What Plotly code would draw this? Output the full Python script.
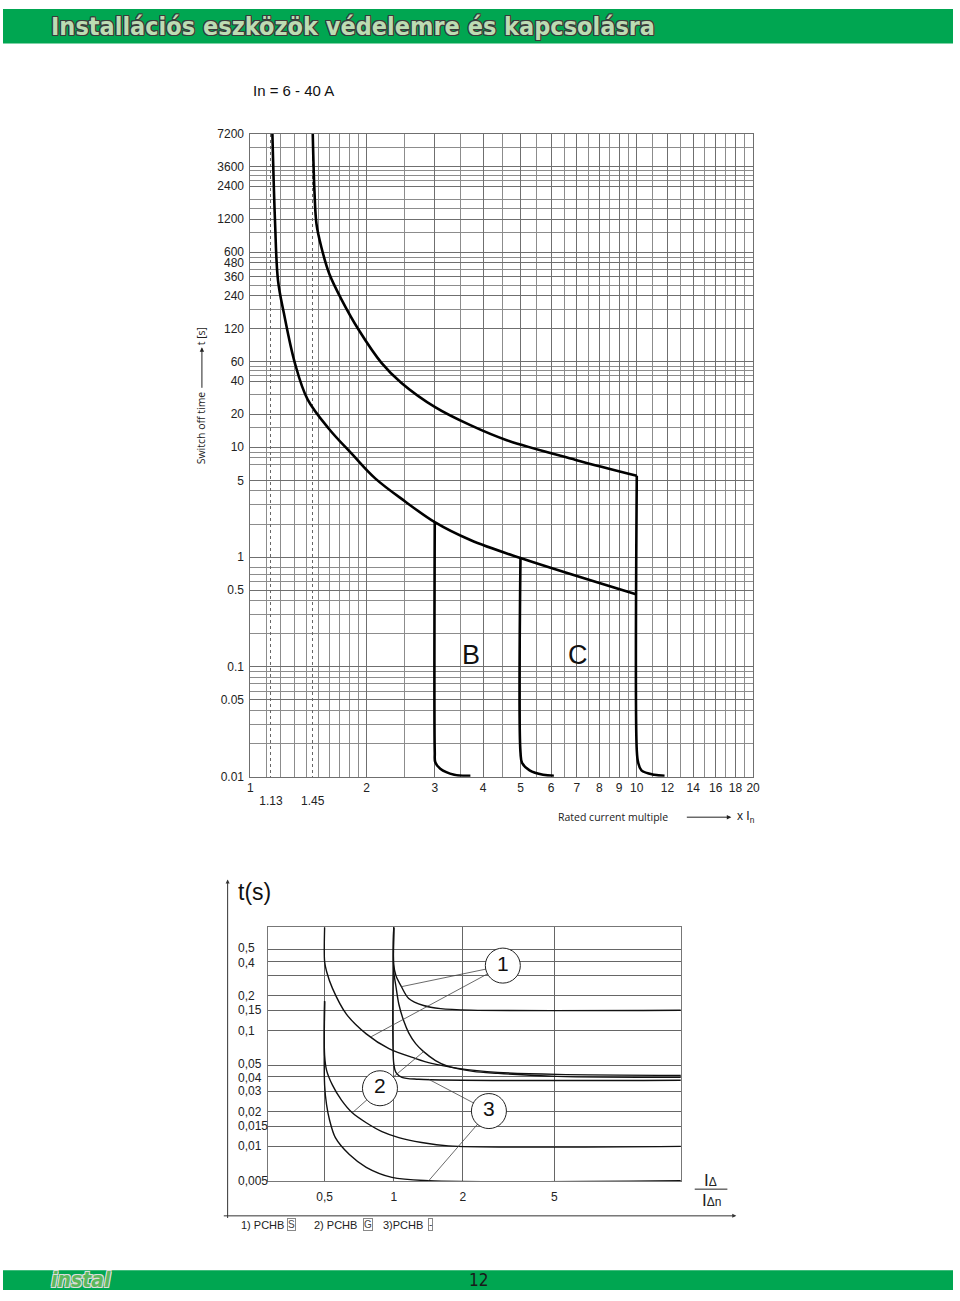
import math
import plotly.graph_objects as go

W, H = 960, 1301

# ---------------- upper chart data (MCB tripping curves, In = 6 - 40 A) ----------------
x_ticks_main = [1, 2, 3, 4, 5, 6, 7, 8, 9, 10, 12, 14, 16, 18, 20]
x_ticks_main_text = ["1", "2", "3", "4", "5", "6", "7", "8", "9", "10", "12", "14", "16", "18", "20"]
x_grid_minor = [1.1, 1.2, 1.3, 1.4, 1.5, 1.6, 1.7, 1.8, 1.9, 2.5, 3.5, 4.5, 5.5, 6.5, 7.5,
                8.5, 9.5, 11, 13, 15, 17, 19]
x_ticks_dotted = [1.13, 1.45]
x_ticks_dotted_text = ["1.13", "1.45"]

y_ticks_main = [0.01, 0.05, 0.1, 0.5, 1, 5, 10, 20, 40, 60, 120, 240, 360, 480, 600,
                1200, 2400, 3600, 7200]
y_ticks_main_text = ["0.01", "0.05", "0.1", "0.5", "1", "5", "10", "20", "40", "60", "120",
                     "240", "360", "480", "600", "1200", "2400", "3600", "7200"]
y_grid_minor = [0.02, 0.03, 0.04, 0.06, 0.07, 0.08, 0.09, 0.2, 0.3, 0.4, 0.6, 0.7, 0.8,
                2, 3, 4, 7, 8, 9, 15, 30, 45, 50, 55, 180, 300, 420, 540, 900, 1500,
                1800, 2700, 3000, 3300, 5400]

# thermal boundary curve starting at 1.13 x In
curve_113_x = [1.14, 1.158, 1.179, 1.221, 1.303, 1.406, 1.60, 1.831, 2.107, 2.515, 3.0,
               3.709, 5.0, 10.0]
curve_113_y = [7200, 1145, 330, 166, 58.8, 27.3, 14.6, 8.7, 5.18, 3.21, 2.08, 1.43, 0.98, 0.456]
# thermal boundary curve starting at 1.45 x In
curve_145_x = [1.45, 1.465, 1.483, 1.526, 1.60, 1.727, 1.908, 2.184, 2.456, 3.014, 3.709,
               4.607, 6.95, 10.0]
curve_145_y = [7200, 2134, 1076, 667, 381, 217, 117, 58.8, 38.8, 23.1, 15.9, 11.6, 7.68, 5.51]
# magnetic release branches
mag_3_x = [3.0, 3.0, 3.01, 3.10, 3.37, 3.71]
mag_3_y = [2.08, 0.0168, 0.0135, 0.0118, 0.0104, 0.0102]
mag_5_x = [5.0, 5.0, 5.05, 5.28, 5.72, 6.1]
mag_5_y = [0.98, 0.0167, 0.0133, 0.0114, 0.0104, 0.0102]
mag_10_x = [10.0, 10.0, 10.08, 10.28, 11.1, 11.8]
mag_10_y = [5.51, 0.0173, 0.0135, 0.0114, 0.0104, 0.0102]

curve_labels = ["B", "C"]
curve_label_x = [3.73, 7.03]
curve_label_y = [0.128, 0.128]

# ---------------- lower chart data (RCD characteristics) ----------------
rcd_x_ticks = [0.5, 1, 2, 5]
rcd_x_ticks_text = ["0,5", "1", "2", "5"]
rcd_y_grid = [0.5, 0.4, 0.3, 0.2, 0.15, 0.1, 0.05, 0.04, 0.03, 0.02, 0.015, 0.01, 0.005]
rcd_y_labels = [0.5, 0.4, 0.2, 0.15, 0.1, 0.05, 0.04, 0.03, 0.02, 0.015, 0.01, 0.005]
rcd_y_labels_text = ["0,5", "0,4", "0,2", "0,15", "0,1", "0,05", "0,04", "0,03", "0,02",
                     "0,015", "0,01", "0,005"]

c1_upper_x = [1.0, 1.0, 1.022, 1.08, 1.162, 1.349, 1.6, 2.17, 17.8]
c1_upper_y = [0.78, 0.37, 0.30, 0.24, 0.19, 0.165, 0.155, 0.1505, 0.150]
c1_lower_x = [0.5, 0.5, 0.51, 0.541, 0.622, 0.759, 0.953, 1.246, 1.461, 1.909, 2.84, 5.15, 17.8]
c1_lower_y = [0.78, 0.395, 0.325, 0.232, 0.139, 0.0939, 0.0699, 0.0574, 0.0521, 0.0472,
              0.0436, 0.0419, 0.0411]
c2_upper_x = [1.0, 1.0, 1.022, 1.052, 1.106, 1.162, 1.246, 1.349, 1.52, 1.729, 2.216, 2.84,
              5.15, 17.8]
c2_upper_y = [0.78, 0.325, 0.242, 0.170, 0.121, 0.0958, 0.0772, 0.0659, 0.0552, 0.0491,
              0.0445, 0.0428, 0.0403, 0.0395]
c2_lower_x = [0.5, 0.5, 0.51, 0.541, 0.592, 0.66, 0.759, 0.889, 1.052, 1.322, 1.729, 17.8]
c2_lower_y = [0.18, 0.061, 0.0454, 0.0338, 0.0251, 0.0195, 0.016, 0.0134, 0.0119, 0.0108,
              0.0101, 0.0100]
c3_upper_x = [1.0, 1.0, 1.022, 1.085, 1.284, 17.8]
c3_upper_y = [0.78, 0.0521, 0.0436, 0.0395, 0.038, 0.0373]
c3_lower_x = [0.5, 0.5, 0.51, 0.525, 0.557, 0.641, 0.759, 0.982, 1.42, 17.8]
c3_lower_y = [0.18, 0.0338, 0.0228, 0.017, 0.0119, 0.0085, 0.0066, 0.0054, 0.00505, 0.00505]

callout_labels = ["1", "2", "3"]
callout_x = [2.986, 0.871, 2.597]
callout_y = [0.365, 0.0318, 0.0202]
leader_a_x = [1.08, 1.349, 1.42]
leader_a_y = [0.24, 0.0659, 0.038]
leader_b_x = [0.797, 0.66, 1.42]
leader_b_y = [0.0886, 0.0195, 0.00505]

legend_items = ["1) PCHB", "2) PCHB", "3)PCHB"]
legend_boxes = ["S", "G", "-"]

# ---------------- helpers ----------------
def fx(px):
    return px / W


def fy(py):
    return 1 - py / H


ARIAL = "Liberation Sans, Arial, sans-serif"
OPEN = "Open Sans, sans-serif"
NARROW = "Liberation Sans Narrow, DejaVu Sans Condensed, sans-serif"
GREEN = "#00a651"

fig = go.Figure()

CURVE = dict(color="black", width=2.6, shape="spline", smoothing=1.0)
for xs, ys, ax in [(curve_113_x, curve_113_y, "x"), (curve_145_x, curve_145_y, "x3"),
                   (mag_3_x, mag_3_y, "x"), (mag_5_x, mag_5_y, "x"), (mag_10_x, mag_10_y, "x")]:
    fig.add_trace(go.Scatter(x=xs, y=ys, mode="lines", line=CURVE, xaxis=ax, yaxis="y",
                             hoverinfo="skip", showlegend=False))

RCD = dict(color="#111", width=1.4, shape="spline", smoothing=0.9)
for xs, ys in [(c1_upper_x, c1_upper_y), (c1_lower_x, c1_lower_y), (c2_upper_x, c2_upper_y),
               (c2_lower_x, c2_lower_y), (c3_upper_x, c3_upper_y), (c3_lower_x, c3_lower_y)]:
    fig.add_trace(go.Scatter(x=xs, y=ys, mode="lines", line=RCD, xaxis="x2", yaxis="y2",
                             hoverinfo="skip", showlegend=False))

# leader lines to the callout circles
for i in range(len(callout_labels)):
    fig.add_trace(go.Scatter(x=[leader_a_x[i], callout_x[i], leader_b_x[i]],
                             y=[leader_a_y[i], callout_y[i], leader_b_y[i]],
                             mode="lines", line=dict(color="#444", width=0.8),
                             xaxis="x2", yaxis="y2", hoverinfo="skip", showlegend=False))
fig.add_trace(go.Scatter(x=callout_x, y=callout_y, mode="markers+text", text=callout_labels,
                         textposition="middle center",
                         textfont=dict(family=ARIAL, size=21, color="#111"),
                         marker=dict(symbol="circle", size=35, color="white",
                                     line=dict(color="#222", width=1)),
                         xaxis="x2", yaxis="y2", hoverinfo="skip", showlegend=False,
                         cliponaxis=False))

GRID_MAJ = "#6f6f6f"
GRID_MIN = "#8c8c8c"
TICKFONT = dict(family=ARIAL, size=12, color="#222")

layout = dict(
    width=W, height=H, autosize=False,
    margin=dict(l=0, r=0, t=0, b=0),
    paper_bgcolor="white", plot_bgcolor="white",
    showlegend=False,
    xaxis=dict(type="log", range=[0, math.log10(20)], domain=[fx(250), fx(758)], anchor="y",
               tickmode="array", tickvals=x_ticks_main, ticktext=x_ticks_main_text,
               showgrid=True, gridcolor=GRID_MAJ, gridwidth=1,
               minor=dict(tickmode="array", tickvals=x_grid_minor, showgrid=True,
                          gridcolor=GRID_MIN, gridwidth=1, ticks=""),
               showline=True, mirror=True, linecolor=GRID_MAJ, linewidth=1,
               ticks="", tickfont=TICKFONT, zeroline=False, fixedrange=True),
    xaxis3=dict(type="log", range=[0, math.log10(20)], overlaying="x", anchor="y",
                tickmode="array", tickvals=x_ticks_dotted,
                ticktext=["<br>" + t for t in x_ticks_dotted_text],
                showgrid=True, gridcolor="#666", griddash="dot", gridwidth=1,
                ticks="", tickfont=TICKFONT, zeroline=False, showline=False, side="bottom"),
    yaxis=dict(type="log", range=[-2, math.log10(7200)], domain=[fy(778), fy(128)], anchor="x",
               tickmode="array", tickvals=y_ticks_main, ticktext=y_ticks_main_text,
               showgrid=True, gridcolor=GRID_MAJ, gridwidth=1,
               minor=dict(tickmode="array", tickvals=y_grid_minor, showgrid=True,
                          gridcolor=GRID_MIN, gridwidth=1, ticks=""),
               showline=True, mirror=True, linecolor=GRID_MAJ, linewidth=1,
               ticks="", tickfont=TICKFONT, zeroline=False, ticklabelstandoff=3),
    xaxis2=dict(type="log", range=[math.log10(0.284), math.log10(17.8)],
                domain=[fx(268), fx(685)], anchor="y2",
                tickmode="array", tickvals=rcd_x_ticks, ticktext=rcd_x_ticks_text,
                showgrid=True, gridcolor="#666", gridwidth=1,
                showline=True, mirror=True, linecolor="#777", linewidth=1,
                ticks="", tickfont=TICKFONT, zeroline=False, ticklabelstandoff=4),
    yaxis2=dict(type="log", range=[math.log10(0.005), math.log10(0.787)],
                domain=[fy(1187), fy(930)], anchor="x2",
                tickmode="array", tickvals=rcd_y_grid, showticklabels=False,
                showgrid=True, gridcolor="#666", gridwidth=1,
                showline=True, mirror=True, linecolor="#777", linewidth=1,
                ticks="", zeroline=False),
)
fig.update_layout(**layout)

shapes = [
    dict(type="rect", xref="paper", yref="paper", x0=0, x1=1, y0=fy(37), y1=fy(2),
         fillcolor=GREEN, line=dict(width=0), layer="below"),
    dict(type="rect", xref="paper", yref="paper", x0=0, x1=1, y0=fy(1297), y1=fy(1277),
         fillcolor=GREEN, line=dict(width=0), layer="below"),
    # fraction bar of the lower x-axis title
    dict(type="line", xref="paper", yref="paper", x0=fx(699), x1=fx(732), y0=fy(1195),
         y1=fy(1195), line=dict(color="#222", width=1)),
]
fig.update_layout(shapes=shapes)


def note(text, px, py, size=12, family=ARIAL, color="#222", xanchor="center", **kw):
    d = dict(text=text, xref="paper", yref="paper", x=fx(px), y=fy(py), xanchor=xanchor,
             yanchor="middle", showarrow=False, font=dict(family=family, size=size, color=color))
    d.update(kw)
    return d


def arrow(px, py, ax, ay, color="#222", size=0.9):
    return dict(text="", xref="paper", yref="paper", x=fx(px), y=fy(py), ax=ax, ay=ay,
                xanchor="center", yanchor="middle",
                showarrow=True, arrowhead=2, arrowsize=size, arrowwidth=1, arrowcolor=color)


ann = []
OUTLINE = ("-1px -1px 0 #3b3b3b, 1px -1px 0 #3b3b3b, -1px 1px 0 #3b3b3b, 1px 1px 0 #3b3b3b, "
           "0 1px 0 #3b3b3b, 0 -1px 0 #3b3b3b, 1px 0 0 #3b3b3b, -1px 0 0 #3b3b3b")
hdr = note("<b>Installációs eszközök védelemre és kapcsolásra</b>", 46, 20, size=25,
           family=NARROW, color="#bcdcb3", xanchor="left")
hdr["font"]["shadow"] = OUTLINE
ann.append(hdr)
ann.append(note("In = 6 - 40 A", 294, 84, size=15, color="#111"))
for t, lx, ly in zip(curve_labels, curve_label_x, curve_label_y):
    ann.append(dict(text=t, xref="x", yref="y", x=math.log10(lx), y=math.log10(ly),
                    xanchor="center", yanchor="middle",
                    showarrow=False, font=dict(family=ARIAL, size=27, color="#111")))
# rotated y title
ann.append(note("Switch off time", 201, 425, size=10.5, family=OPEN, textangle=-90))
ann.append(arrow(201, 344, 0, 42))
ann.append(note("t [s]", 201, 333, size=10.5, family=OPEN, textangle=-90))
# x title
ann.append(note("Rated current multiple", 616, 819, size=10.5, family=OPEN))
ann.append(arrow(736, 819, -46, 0))
ann.append(note("x I<sub>n</sub>", 740, 819, xanchor="left"))

# lower chart
ann.append(note("t(s)", 254, 895, size=23, color="#111"))
ann.append(arrow(227, 882, 0, 340, color="#333", size=0.8))
ann.append(arrow(741, 1222, -514, 0, color="#333", size=0.8))
label_nudge = {"0,5": 1.5, "0,4": -1.5, "0,05": 1.2, "0,04": -1.2}
for v, t in zip(rcd_y_labels, rcd_y_labels_text):
    ann.append(dict(text=t, xref="paper", yref="y2", x=fx(235), y=math.log10(v),
                    xanchor="left", yanchor="middle", showarrow=False,
                    yshift=label_nudge.get(t, 0),
                    font=dict(family=ARIAL, size=12, color="#222")))
ann.append(note("I<span style='font-size:12px'>Δ</span>", 715, 1186, size=17))
ann.append(note("I<span style='font-size:12px'>Δn</span>", 716, 1206, size=17))
# legend line
leg_x = [238, 312, 382]
box_x = [292, 369, 432]
for t, lx in zip(legend_items, leg_x):
    ann.append(note(t, lx, 1231, size=11, xanchor="left"))
for t, bx in zip(legend_boxes, box_x):
    ann.append(note(t, bx, 1231, size=10, color="#444", bordercolor="#888", borderwidth=1,
                    borderpad=0))
# footer
ftr = note("<b><i>instal</i></b>", 46, 1287, size=21, family=NARROW, color="#5cb85c",
           xanchor="left")
ftr["font"]["shadow"] = "-1px -1px 0 #ddd, 1px -1px 0 #ddd, -1px 1px 0 #ddd, 1px 1px 0 #ddd"
ann.append(ftr)
ann.append(note("12", 480, 1287, size=17, color="#1a1a1a", family=NARROW))
fig.update_layout(annotations=ann)

fig.write_html(
    "out.html",
    post_script=(
        "document.documentElement.style.margin='0';"
        "document.documentElement.style.overflow='hidden';"
        "document.body.style.margin='0';"
        "document.body.style.overflow='hidden';"
        "var gd=document.getElementById('{plot_id}');"
        "gd.style.position='fixed';gd.style.left='0px';gd.style.top='0px';"
    ),
)
